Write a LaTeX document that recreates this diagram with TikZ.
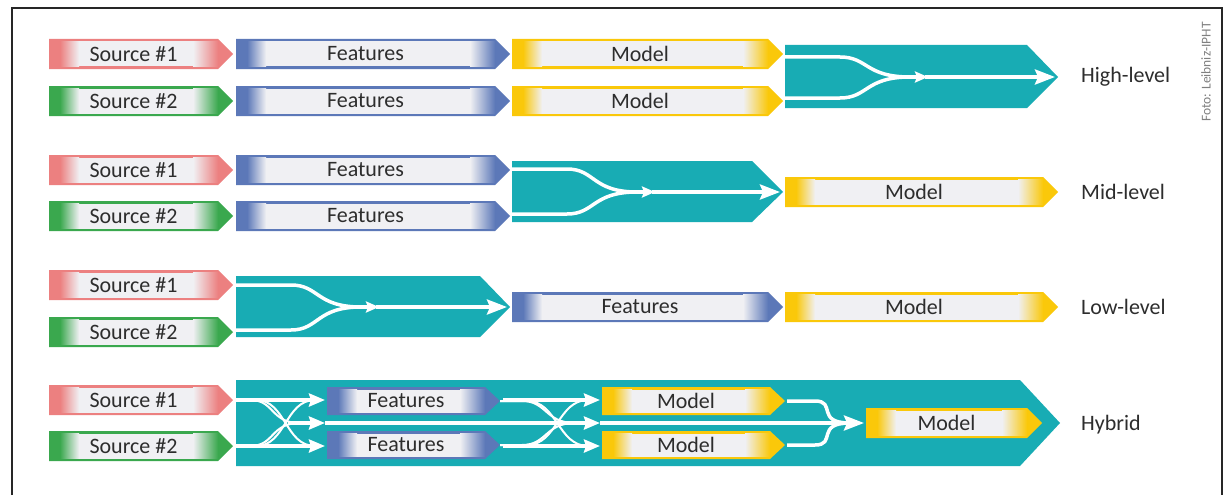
\documentclass[tikz,border=0pt]{standalone}
\usepackage{fontspec}
\setmainfont{Carlito}
\usetikzlibrary{arrows.meta,calc}
\definecolor{cpink}{RGB}{236,128,128}
\definecolor{cgreen}{RGB}{58,168,78}
\definecolor{cblue}{RGB}{92,120,184}
\definecolor{cyellow}{RGB}{250,200,10}
\definecolor{cteal}{RGB}{24,172,180}
\definecolor{boxin}{RGB}{240,240,243}
\definecolor{ctext}{RGB}{45,45,45}
\tikzset{
  lbl/.style={font=\fontsize{22}{24}\selectfont, text=ctext, inner sep=0pt},
  lvl/.style={font=\fontsize{22}{24}\selectfont, text=ctext, inner sep=0pt, anchor=west},
  wl/.style={draw=white, line width=3.5pt},
  wthin/.style={draw=white, line width=2pt},
  bigtip/.style={-{Stealth[length=20pt,width=15pt,inset=3pt]}},
  midtip/.style={-{Stealth[length=16pt,width=13pt,inset=2pt]}},
  smalltip/.style={-{Stealth[length=13pt,width=11pt,inset=2pt]}},
  tealbg/.style={fill=cteal}
}
% name, colour, x left, x tip, y centre, text, half height
\newcommand\abox[7]{%
  \fill[#2] (#3,#5-#7) -- (#4-15,#5-#7) -- (#4,#5) -- (#4-15,#5+#7) -- (#3,#5+#7) -- cycle;
  \shade[left color=#2, right color=boxin] (#3+11,#5-#7+2.5) rectangle (#3+30,#5+#7-2.5);
  \fill[boxin] (#3+30,#5-#7+2.5) rectangle (#4-40,#5+#7-2.5);
  \shade[left color=boxin, right color=#2] (#4-40,#5-#7+2.5) rectangle (#4-15,#5+#7-2.5);
  \node[lbl] (#1) at ({(#3+#4-15)/2},#5) {#6};
  \coordinate (#1-tip) at (#4,#5);
}
% fusion lines: name, x0, ytop, ybot, ymid, xtip
\newcommand\fuse[6]{%
  \coordinate (#1-a) at (#2,#3);
  \coordinate (#1-b) at (#2,#4);
  \coordinate (#1-m) at (#2+125,#5);
  \coordinate (#1-e) at (#6-3,#5);
  \draw[wl] (#1-a) -- ++(55,0) .. controls +(28,0) and +(-45,0) .. (#1-m);
  \draw[wl] (#1-b) -- ++(55,0) .. controls +(28,0) and +(-45,0) .. (#1-m);
  \draw[wl,smalltip] ($(#1-m)+(-12,0)$) -- ++(30,0);
  \draw[wl,bigtip] ($(#1-m)+(15,0)$) -- (#1-e);
}
\begin{document}
\begin{tikzpicture}[x=1pt,y=-1pt]
\useasboundingbox (0,0) rectangle (1228,495);
\fill[white] (0,0) rectangle (1228,495);
% frame
\draw[line width=1.3pt, black!85] (12,495) -- (12,8) -- (1222,8) -- (1222,495);
\node[rotate=90, font=\fontsize{13.5}{15}\selectfont, text=black!50, inner sep=0pt] (foto) at (1206,72) {Foto: Leibniz-IPHT};

% ---------- High-level ----------
\fill[tealbg] (785,45) -- (1027,45) -- (1058,77) -- (1027,108) -- (785,108) -- cycle;
\abox{h-s1}{cpink}{49}{233}{54}{Source \#1}{15}
\abox{h-s2}{cgreen}{49}{233}{101}{Source \#2}{15}
\abox{h-f1}{cblue}{236}{510}{54}{Features}{15}
\abox{h-f2}{cblue}{236}{510}{101}{Features}{15}
\abox{h-m1}{cyellow}{512}{783}{54}{Model}{15}
\abox{h-m2}{cyellow}{512}{783}{101}{Model}{15}
\fuse{hf}{785}{57}{98}{77}{1058}
\node[lvl] (lh) at (1081,77) {High-level};

% ---------- Mid-level ----------
\fill[tealbg] (512,161) -- (752,161) -- (783,192) -- (752,222) -- (512,222) -- cycle;
\abox{m-s1}{cpink}{49}{233}{170}{Source \#1}{15}
\abox{m-s2}{cgreen}{49}{233}{216}{Source \#2}{15}
\abox{m-f1}{cblue}{236}{510}{170}{Features}{15}
\abox{m-f2}{cblue}{236}{510}{216}{Features}{15}
\abox{m-m}{cyellow}{785}{1058}{192}{Model}{15}
\fuse{mf}{512}{169}{214}{192}{783}
\node[lvl] (lm) at (1081,192) {Mid-level};

% ---------- Low-level ----------
\fill[tealbg] (236,276) -- (480,276) -- (510,307) -- (480,337) -- (236,337) -- cycle;
\abox{l-s1}{cpink}{49}{233}{285}{Source \#1}{15}
\abox{l-s2}{cgreen}{49}{233}{332}{Source \#2}{15}
\abox{l-f}{cblue}{512}{783}{307}{Features}{15}
\abox{l-m}{cyellow}{785}{1058}{307}{Model}{15}
\fuse{lf}{236}{285}{330}{307}{510}
\node[lvl] (ll) at (1081,307) {Low-level};

% ---------- Hybrid ----------
\fill[tealbg] (236,380) -- (1020,380) -- (1060,423) -- (1020,466) -- (236,466) -- cycle;
\abox{y-s1}{cpink}{49}{233}{400}{Source \#1}{15}
\abox{y-s2}{cgreen}{49}{233}{446}{Source \#2}{15}
\abox{y-f1}{cblue}{327}{500}{401}{Features}{14}
\abox{y-f2}{cblue}{327}{500}{445}{Features}{14}
\abox{y-m1}{cyellow}{602}{785}{401}{Model}{14}
\abox{y-m2}{cyellow}{602}{785}{445}{Model}{14}
\abox{y-m}{cyellow}{866}{1042}{423}{Model}{15}
\node[lvl] (ly) at (1081,425) {Hybrid};

% left crossing
\coordinate (ya1) at (236,400);
\coordinate (ya2) at (236,446);
\coordinate (yb1) at (325,400);
\coordinate (yb2) at (325,446);
\coordinate (ybm) at (325,423);
\draw[wthin] (ya1) -- ++(14,0) .. controls +(25,0) and +(-30,0) .. (300,423);
\draw[wthin] (ya2) -- ++(14,0) .. controls +(25,0) and +(-30,0) .. (300,423);
\draw[wthin] (ya1) -- ++(20,0) .. controls +(30,0) and +(-30,0) .. (315,446);
\draw[wthin] (ya2) -- ++(20,0) .. controls +(30,0) and +(-30,0) .. (315,400);
\draw[wl,midtip] (ya1) -- (yb1);
\draw[wl,midtip] (ya2) -- (yb2);
\draw[wl,midtip] (288,423) -- (ybm);
% middle line through features
\coordinate (ycm) at (600,423);
\draw[wl,midtip] (ybm) -- (ycm);
% second crossing
\coordinate (yc1) at (600,400);
\coordinate (yc2) at (600,446);
\draw[wthin] (y-f1-tip) -- ++(22,0) .. controls +(25,0) and +(-30,0) .. (575,423);
\draw[wthin] (y-f2-tip) -- ++(22,0) .. controls +(25,0) and +(-30,0) .. (575,423);
\draw[wthin] (y-f1-tip) -- ++(27,0) .. controls +(30,0) and +(-30,0) .. (588,446);
\draw[wthin] (y-f2-tip) -- ++(27,0) .. controls +(30,0) and +(-30,0) .. (588,400);
\draw[wl,midtip] (y-f1-tip) ++(3,-1) -- (yc1);
\draw[wl,midtip] (y-f2-tip) ++(3,1) -- (yc2);
% right merge
\coordinate (ydm) at (864,423);
\draw[wl] (y-m1-tip) ++(2,0) -- ++(28,0) .. controls +(22,0) and +(-35,0) .. (850,423);
\draw[wl] (y-m2-tip) ++(2,0) -- ++(28,0) .. controls +(22,0) and +(-35,0) .. (850,423);
\draw[wl,bigtip] (ycm) -- (ydm);
\end{tikzpicture}
\end{document}
